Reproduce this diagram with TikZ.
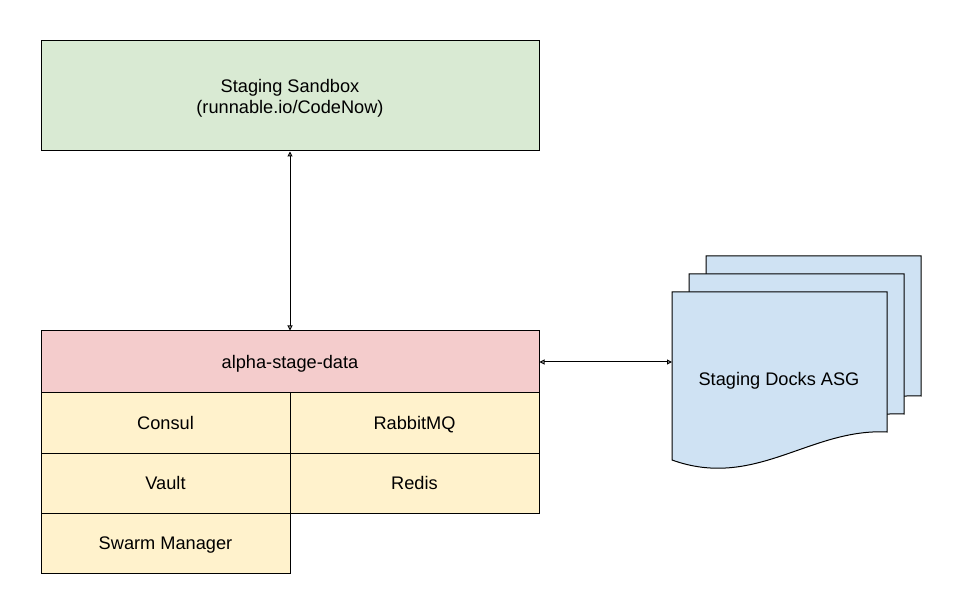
\documentclass[tikz,border=0pt]{standalone}
\usepackage{fontspec}
\setmainfont{Liberation Sans}
\usepackage{xcolor}
\usetikzlibrary{arrows.meta,positioning}
\definecolor{sandboxgreen}{HTML}{D9EAD3}
\definecolor{datared}{HTML}{F4CCCC}
\definecolor{cellyellow}{HTML}{FFF2CC}
\definecolor{docblue}{HTML}{CFE2F3}
\tikzset{
	box/.style={draw, line width=1pt, inner sep=0pt, align=center, font=\fontsize{18.2}{21}\selectfont},
	cell/.style={box, fill=cellyellow, minimum width=249pt, minimum height=60pt, text height=13pt, text depth=0pt},
	link/.style={line width=1pt, {Triangle[open,length=5pt,width=5pt]}-{Triangle[open,length=5pt,width=5pt]}},
	docpage/.style={draw, line width=1pt, fill=docblue}
}
\begin{document}
\begin{tikzpicture}[x=1pt, y=-1pt]
		\useasboundingbox (0,0) rectangle (959,612);
		\node[box, fill=sandboxgreen, minimum width=498pt, minimum height=110pt] (sandbox) at (290, 96) {\rule{0pt}{17pt}Staging Sandbox\\(runnable.io/CodeNow)};
		\node[box, fill=datared, minimum width=498pt, minimum height=62pt, text height=13pt, text depth=0pt] (data) at (290, 362) {alpha-stage-data};
		\node[cell] (consul) at (165.5, 423) {Consul};
		\node[cell] (rabbit) at (414.5, 423) {RabbitMQ};
		\node[cell] (vault) at (165.5, 483) {Vault};
		\node[cell] (redis) at (414.5, 483) {Redis};
		\node[cell] (swarm) at (165.5, 543) {Swarm Manager};
		% stacked pages
		\foreach \dx/\dy in {34/-36, 17/-18, 0/0} {
			\draw[docpage, shift={(\dx,\dy)}] (672, 292) -- (887, 292) -- (887, 432)
				.. controls (810, 428) and (755, 490) .. (672, 460) -- cycle;
		}
		\node[font=\fontsize{18.2}{21}\selectfont, text height=13pt, text depth=0pt] (docs) at (779, 379) {Staging Docks ASG};
		\coordinate (docsin) at (672, 362);
		\draw[link] (sandbox.south) -- (data.north);
		\draw[link] (data.east) -- (docsin);
	\end{tikzpicture}
\end{document}
